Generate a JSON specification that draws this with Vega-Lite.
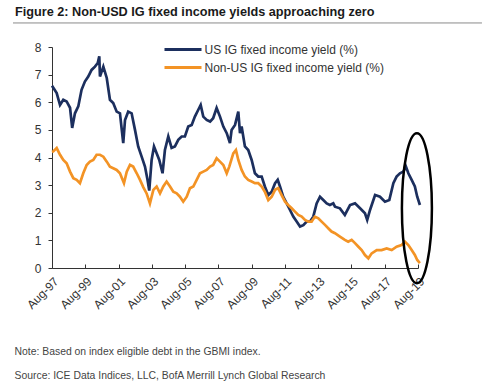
{
  "$schema": "https://vega.github.io/schema/vega-lite/v6.json",
  "width": 366,
  "height": 221,
  "autosize": {"type": "none"},
  "padding": {"left": 52, "top": 47, "right": 82, "bottom": 123},
  "background": "white",
  "config": {
    "view": {"stroke": null},
    "font": "Liberation Sans",
    "axis": {"labelFont": "Liberation Sans", "titleFont": "Liberation Sans", "labelOverlap": false}
  },
  "title": {
    "text": "Figure 2: Non-USD IG fixed income yields approaching zero",
    "anchor": "start",
    "frame": "group",
    "font": "Liberation Sans",
    "fontSize": 12.7,
    "fontWeight": "bold",
    "color": "#1a1a1a",
    "dx": -37,
    "offset": 4
  },
  "datasets": {
    "yields": [
      {"d":"1997-08-01","v":6.6,"s":"US"},
      {"d":"1997-11-12","v":6.33,"s":"US"},
      {"d":"1998-01-24","v":5.9,"s":"US"},
      {"d":"1998-04-06","v":6.09,"s":"US"},
      {"d":"1998-06-18","v":6.03,"s":"US"},
      {"d":"1998-09-01","v":5.8,"s":"US"},
      {"d":"1998-10-18","v":5.07,"s":"US"},
      {"d":"1998-12-18","v":5.6,"s":"US"},
      {"d":"1999-03-01","v":5.85,"s":"US"},
      {"d":"1999-05-12","v":6.45,"s":"US"},
      {"d":"1999-07-24","v":6.75,"s":"US"},
      {"d":"1999-10-06","v":6.93,"s":"US"},
      {"d":"1999-12-18","v":7.17,"s":"US"},
      {"d":"2000-03-01","v":7.29,"s":"US"},
      {"d":"2000-05-01","v":7.42,"s":"US"},
      {"d":"2000-06-04","v":7.66,"s":"US"},
      {"d":"2000-06-19","v":6.93,"s":"US"},
      {"d":"2000-09-01","v":7.29,"s":"US"},
      {"d":"2000-11-15","v":6.88,"s":"US"},
      {"d":"2001-01-24","v":6.09,"s":"US"},
      {"d":"2001-04-06","v":5.97,"s":"US"},
      {"d":"2001-06-21","v":5.66,"s":"US"},
      {"d":"2001-09-01","v":5.6,"s":"US"},
      {"d":"2001-11-12","v":4.52,"s":"US"},
      {"d":"2001-12-21","v":5.36,"s":"US"},
      {"d":"2002-03-01","v":5.66,"s":"US"},
      {"d":"2002-05-15","v":5.6,"s":"US"},
      {"d":"2002-07-28","v":5.0,"s":"US"},
      {"d":"2002-10-06","v":4.4,"s":"US"},
      {"d":"2002-12-21","v":4.03,"s":"US"},
      {"d":"2003-03-04","v":3.67,"s":"US"},
      {"d":"2003-04-28","v":3.2,"s":"US"},
      {"d":"2003-06-06","v":2.8,"s":"US"},
      {"d":"2003-07-28","v":3.91,"s":"US"},
      {"d":"2003-09-18","v":4.4,"s":"US"},
      {"d":"2003-11-15","v":4.15,"s":"US"},
      {"d":"2004-01-12","v":3.91,"s":"US"},
      {"d":"2004-03-24","v":3.43,"s":"US"},
      {"d":"2004-05-15","v":4.27,"s":"US"},
      {"d":"2004-07-28","v":4.76,"s":"US"},
      {"d":"2004-10-09","v":4.35,"s":"US"},
      {"d":"2004-12-21","v":4.4,"s":"US"},
      {"d":"2005-03-04","v":4.64,"s":"US"},
      {"d":"2005-05-18","v":4.76,"s":"US"},
      {"d":"2005-07-28","v":4.76,"s":"US"},
      {"d":"2005-10-09","v":5.12,"s":"US"},
      {"d":"2005-12-24","v":5.18,"s":"US"},
      {"d":"2006-03-04","v":5.48,"s":"US"},
      {"d":"2006-05-15","v":5.72,"s":"US"},
      {"d":"2006-07-09","v":5.9,"s":"US"},
      {"d":"2006-09-04","v":5.48,"s":"US"},
      {"d":"2006-11-18","v":5.36,"s":"US"},
      {"d":"2007-02-01","v":5.3,"s":"US"},
      {"d":"2007-04-09","v":5.42,"s":"US"},
      {"d":"2007-06-24","v":5.79,"s":"US"},
      {"d":"2007-09-06","v":5.48,"s":"US"},
      {"d":"2007-11-18","v":5.12,"s":"US"},
      {"d":"2008-02-01","v":4.88,"s":"US"},
      {"d":"2008-04-12","v":4.52,"s":"US"},
      {"d":"2008-05-18","v":5.0,"s":"US"},
      {"d":"2008-08-01","v":5.18,"s":"US"},
      {"d":"2008-10-12","v":5.66,"s":"US"},
      {"d":"2008-11-18","v":4.88,"s":"US"},
      {"d":"2008-12-24","v":5.12,"s":"US"},
      {"d":"2009-03-06","v":4.4,"s":"US"},
      {"d":"2009-05-18","v":4.27,"s":"US"},
      {"d":"2009-08-01","v":3.91,"s":"US"},
      {"d":"2009-10-12","v":3.43,"s":"US"},
      {"d":"2009-12-24","v":3.31,"s":"US"},
      {"d":"2010-03-09","v":3.31,"s":"US"},
      {"d":"2010-05-18","v":2.95,"s":"US"},
      {"d":"2010-08-01","v":2.64,"s":"US"},
      {"d":"2010-10-15","v":2.76,"s":"US"},
      {"d":"2010-12-28","v":3.07,"s":"US"},
      {"d":"2011-02-24","v":3.19,"s":"US"},
      {"d":"2011-04-15","v":2.95,"s":"US"},
      {"d":"2011-06-24","v":2.58,"s":"US"},
      {"d":"2011-09-09","v":2.34,"s":"US"},
      {"d":"2011-11-21","v":2.1,"s":"US"},
      {"d":"2012-02-01","v":1.86,"s":"US"},
      {"d":"2012-04-15","v":1.68,"s":"US"},
      {"d":"2012-06-28","v":1.5,"s":"US"},
      {"d":"2012-09-09","v":1.55,"s":"US"},
      {"d":"2012-11-21","v":1.68,"s":"US"},
      {"d":"2013-02-04","v":1.68,"s":"US"},
      {"d":"2013-04-15","v":1.86,"s":"US"},
      {"d":"2013-06-28","v":2.34,"s":"US"},
      {"d":"2013-09-09","v":2.58,"s":"US"},
      {"d":"2013-11-21","v":2.46,"s":"US"},
      {"d":"2014-02-04","v":2.34,"s":"US"},
      {"d":"2014-04-15","v":2.28,"s":"US"},
      {"d":"2014-06-28","v":2.34,"s":"US"},
      {"d":"2014-08-04","v":2.22,"s":"US"},
      {"d":"2014-11-21","v":2.16,"s":"US"},
      {"d":"2015-03-09","v":1.92,"s":"US"},
      {"d":"2015-07-01","v":2.28,"s":"US"},
      {"d":"2015-10-18","v":2.34,"s":"US"},
      {"d":"2016-02-06","v":2.16,"s":"US"},
      {"d":"2016-05-24","v":1.98,"s":"US"},
      {"d":"2016-07-12","v":1.74,"s":"US"},
      {"d":"2016-09-12","v":2.1,"s":"US"},
      {"d":"2017-01-01","v":2.64,"s":"US"},
      {"d":"2017-04-18","v":2.58,"s":"US"},
      {"d":"2017-08-06","v":2.4,"s":"US"},
      {"d":"2017-11-09","v":2.46,"s":"US"},
      {"d":"2018-02-06","v":3.07,"s":"US"},
      {"d":"2018-04-18","v":3.31,"s":"US"},
      {"d":"2018-07-01","v":3.43,"s":"US"},
      {"d":"2018-09-12","v":3.49,"s":"US"},
      {"d":"2018-11-09","v":3.67,"s":"US"},
      {"d":"2019-01-01","v":3.43,"s":"US"},
      {"d":"2019-03-15","v":3.19,"s":"US"},
      {"d":"2019-05-24","v":2.95,"s":"US"},
      {"d":"2019-07-15","v":2.58,"s":"US"},
      {"d":"2019-09-12","v":2.28,"s":"US"},
      {"d":"1997-08-01","v":4.2,"s":"Non-US"},
      {"d":"1997-08-28","v":4.22,"s":"Non-US"},
      {"d":"1997-11-12","v":4.34,"s":"Non-US"},
      {"d":"1998-01-24","v":4.1,"s":"Non-US"},
      {"d":"1998-04-06","v":3.91,"s":"Non-US"},
      {"d":"1998-06-18","v":3.79,"s":"Non-US"},
      {"d":"1998-09-01","v":3.49,"s":"Non-US"},
      {"d":"1998-11-12","v":3.25,"s":"Non-US"},
      {"d":"1999-01-24","v":3.19,"s":"Non-US"},
      {"d":"1999-04-06","v":3.07,"s":"Non-US"},
      {"d":"1999-06-18","v":3.43,"s":"Non-US"},
      {"d":"1999-09-01","v":3.73,"s":"Non-US"},
      {"d":"1999-11-12","v":3.85,"s":"Non-US"},
      {"d":"2000-01-24","v":3.91,"s":"Non-US"},
      {"d":"2000-04-06","v":4.1,"s":"Non-US"},
      {"d":"2000-06-19","v":4.1,"s":"Non-US"},
      {"d":"2000-09-01","v":4.03,"s":"Non-US"},
      {"d":"2000-11-15","v":3.85,"s":"Non-US"},
      {"d":"2001-01-24","v":3.67,"s":"Non-US"},
      {"d":"2001-04-06","v":3.61,"s":"Non-US"},
      {"d":"2001-06-21","v":3.55,"s":"Non-US"},
      {"d":"2001-09-01","v":3.43,"s":"Non-US"},
      {"d":"2001-11-28","v":3.07,"s":"Non-US"},
      {"d":"2002-01-28","v":3.49,"s":"Non-US"},
      {"d":"2002-04-09","v":3.73,"s":"Non-US"},
      {"d":"2002-06-18","v":3.67,"s":"Non-US"},
      {"d":"2002-09-04","v":3.43,"s":"Non-US"},
      {"d":"2002-11-15","v":3.19,"s":"Non-US"},
      {"d":"2003-01-28","v":2.92,"s":"Non-US"},
      {"d":"2003-04-09","v":2.7,"s":"Non-US"},
      {"d":"2003-06-21","v":2.34,"s":"Non-US"},
      {"d":"2003-09-04","v":2.83,"s":"Non-US"},
      {"d":"2003-11-15","v":2.95,"s":"Non-US"},
      {"d":"2004-01-28","v":2.7,"s":"Non-US"},
      {"d":"2004-04-09","v":2.95,"s":"Non-US"},
      {"d":"2004-06-21","v":3.13,"s":"Non-US"},
      {"d":"2004-09-04","v":2.95,"s":"Non-US"},
      {"d":"2004-11-15","v":2.76,"s":"Non-US"},
      {"d":"2005-01-28","v":2.7,"s":"Non-US"},
      {"d":"2005-04-09","v":2.58,"s":"Non-US"},
      {"d":"2005-06-21","v":2.4,"s":"Non-US"},
      {"d":"2005-09-06","v":2.58,"s":"Non-US"},
      {"d":"2005-11-15","v":2.89,"s":"Non-US"},
      {"d":"2006-01-28","v":2.95,"s":"Non-US"},
      {"d":"2006-04-12","v":3.19,"s":"Non-US"},
      {"d":"2006-06-24","v":3.43,"s":"Non-US"},
      {"d":"2006-09-04","v":3.49,"s":"Non-US"},
      {"d":"2006-11-18","v":3.55,"s":"Non-US"},
      {"d":"2007-02-01","v":3.67,"s":"Non-US"},
      {"d":"2007-04-09","v":3.73,"s":"Non-US"},
      {"d":"2007-06-24","v":3.97,"s":"Non-US"},
      {"d":"2007-09-06","v":3.85,"s":"Non-US"},
      {"d":"2007-11-18","v":3.73,"s":"Non-US"},
      {"d":"2008-02-01","v":3.43,"s":"Non-US"},
      {"d":"2008-03-28","v":3.67,"s":"Non-US"},
      {"d":"2008-06-24","v":4.15,"s":"Non-US"},
      {"d":"2008-08-21","v":4.27,"s":"Non-US"},
      {"d":"2008-10-12","v":3.91,"s":"Non-US"},
      {"d":"2008-12-24","v":3.55,"s":"Non-US"},
      {"d":"2009-03-06","v":3.31,"s":"Non-US"},
      {"d":"2009-05-18","v":3.19,"s":"Non-US"},
      {"d":"2009-08-01","v":3.13,"s":"Non-US"},
      {"d":"2009-10-12","v":3.07,"s":"Non-US"},
      {"d":"2009-12-24","v":3.07,"s":"Non-US"},
      {"d":"2010-03-09","v":2.95,"s":"Non-US"},
      {"d":"2010-05-18","v":2.76,"s":"Non-US"},
      {"d":"2010-08-01","v":2.46,"s":"Non-US"},
      {"d":"2010-10-15","v":2.58,"s":"Non-US"},
      {"d":"2010-12-28","v":2.83,"s":"Non-US"},
      {"d":"2011-03-06","v":2.89,"s":"Non-US"},
      {"d":"2011-05-21","v":2.64,"s":"Non-US"},
      {"d":"2011-08-04","v":2.4,"s":"Non-US"},
      {"d":"2011-10-12","v":2.28,"s":"Non-US"},
      {"d":"2011-12-28","v":2.16,"s":"Non-US"},
      {"d":"2012-03-09","v":2.04,"s":"Non-US"},
      {"d":"2012-05-21","v":1.92,"s":"Non-US"},
      {"d":"2012-08-04","v":1.86,"s":"Non-US"},
      {"d":"2012-10-15","v":1.74,"s":"Non-US"},
      {"d":"2012-12-28","v":1.68,"s":"Non-US"},
      {"d":"2013-03-09","v":1.68,"s":"Non-US"},
      {"d":"2013-05-21","v":1.86,"s":"Non-US"},
      {"d":"2013-08-04","v":1.8,"s":"Non-US"},
      {"d":"2013-10-15","v":1.68,"s":"Non-US"},
      {"d":"2013-12-28","v":1.56,"s":"Non-US"},
      {"d":"2014-03-09","v":1.44,"s":"Non-US"},
      {"d":"2014-05-21","v":1.32,"s":"Non-US"},
      {"d":"2014-08-04","v":1.26,"s":"Non-US"},
      {"d":"2014-11-21","v":1.14,"s":"Non-US"},
      {"d":"2015-03-09","v":1.02,"s":"Non-US"},
      {"d":"2015-05-21","v":0.95,"s":"Non-US"},
      {"d":"2015-08-06","v":1.02,"s":"Non-US"},
      {"d":"2015-10-18","v":0.9,"s":"Non-US"},
      {"d":"2016-01-01","v":0.77,"s":"Non-US"},
      {"d":"2016-03-12","v":0.65,"s":"Non-US"},
      {"d":"2016-05-24","v":0.47,"s":"Non-US"},
      {"d":"2016-08-06","v":0.35,"s":"Non-US"},
      {"d":"2016-10-18","v":0.53,"s":"Non-US"},
      {"d":"2017-02-06","v":0.65,"s":"Non-US"},
      {"d":"2017-05-24","v":0.65,"s":"Non-US"},
      {"d":"2017-09-12","v":0.71,"s":"Non-US"},
      {"d":"2018-01-01","v":0.65,"s":"Non-US"},
      {"d":"2018-04-18","v":0.77,"s":"Non-US"},
      {"d":"2018-08-06","v":0.83,"s":"Non-US"},
      {"d":"2018-10-18","v":0.95,"s":"Non-US"},
      {"d":"2019-01-01","v":0.83,"s":"Non-US"},
      {"d":"2019-03-15","v":0.65,"s":"Non-US"},
      {"d":"2019-05-24","v":0.47,"s":"Non-US"},
      {"d":"2019-07-15","v":0.29,"s":"Non-US"},
      {"d":"2019-09-12","v":0.18,"s":"Non-US"}
    ]
  },
  "encoding": {
    "x": {
      "field": "d",
      "type": "temporal",
      "scale": {
        "type": "utc",
        "domain": [
          {"year": 1997, "month": 8, "date": 1, "utc": true},
          {"year": 2019, "month": 8, "date": 1, "utc": true}
        ]
      },
      "axis": {
        "values": [
          {"year": 1997, "month": 8, "date": 1, "utc": true},
          {"year": 1999, "month": 8, "date": 1, "utc": true},
          {"year": 2001, "month": 8, "date": 1, "utc": true},
          {"year": 2003, "month": 8, "date": 1, "utc": true},
          {"year": 2005, "month": 8, "date": 1, "utc": true},
          {"year": 2007, "month": 8, "date": 1, "utc": true},
          {"year": 2009, "month": 8, "date": 1, "utc": true},
          {"year": 2011, "month": 8, "date": 1, "utc": true},
          {"year": 2013, "month": 8, "date": 1, "utc": true},
          {"year": 2015, "month": 8, "date": 1, "utc": true},
          {"year": 2017, "month": 8, "date": 1, "utc": true},
          {"year": 2019, "month": 8, "date": 1, "utc": true}
        ],
        "labelExpr": "utcFormat(datum.value, '%b-%y')",
        "labelAngle": -45,
        "labelAlign": "right",
        "labelBaseline": "middle",
        "labelFontSize": 12,
        "labelColor": "#333",
        "labelPadding": 15,
        "labelOffset": 4,
        "labelOverlap": false,
        "tickSize": -4,
        "tickColor": "#333",
        "domainColor": "#333",
        "grid": false,
        "title": [
          "Note: Based on index eligible debt in the GBMI index.",
          "Source: ICE Data Indices, LLC, BofA Merrill Lynch Global Research"
        ],
        "titleFontSize": 10.4,
        "titleFontWeight": "normal",
        "titleColor": "#444",
        "titleAlign": "left",
        "titleAnchor": "start",
        "titleBaseline": "alphabetic",
        "titleX": -38,
        "titleY": 86,
        "titleLineHeight": 24
      }
    },
    "y": {
      "field": "v",
      "type": "quantitative",
      "scale": {"domain": [0, 8], "nice": false, "zero": false},
      "axis": {
        "values": [0, 1, 2, 3, 4, 5, 6, 7, 8],
        "title": null,
        "grid": false,
        "labelOverlap": false,
        "labelFontSize": 12,
        "labelColor": "#333",
        "labelPadding": 7,
        "tickSize": 4,
        "tickColor": "#333",
        "domainColor": "#333"
      }
    }
  },
  "layer": [
    {
      "data": {"name": "yields"},
      "mark": {"type": "line", "strokeWidth": 2.7, "clip": false},
      "encoding": {
        "color": {
          "field": "s",
          "type": "nominal",
          "scale": {"domain": ["US", "Non-US"], "range": ["#1c2f5e", "#f39325"]},
          "legend": {
            "orient": "none",
            "legendX": 119.5,
            "legendY": -9,
            "title": null,
            "symbolType": "M-1.85,0 L1.85,0",
            "symbolSize": 400,
            "symbolStrokeWidth": 3,
            "labelFontSize": 12,
            "labelColor": "#333",
            "labelOffset": 10,
            "labelLimit": 300,
            "rowPadding": 0,
            "labelExpr": "datum.label == 'US' ? 'US IG fixed income yield (%)' : 'Non-US IG fixed income yield (%)'"
          }
        }
      }
    },
    {
      "data": {"values": [{"d": "1995-03-29", "d2": "2023-06-05", "v": 8.87}]},
      "mark": {"type": "rule", "stroke": "#8a8a8a", "strokeWidth": 1, "clip": false},
      "encoding": {
        "x2": {"field": "d2"}
      }
    },
    {
      "data": {"values": [{"d": "2019-07-08", "v": 2.16}]},
      "mark": {
        "type": "point",
        "shape": "M0,-1 C0.1105,-1 0.2,-0.5523 0.2,0 C0.2,0.5523 0.1105,1 0,1 C-0.1105,1 -0.2,0.5523 -0.2,0 C-0.2,-0.5523 -0.1105,-1 0,-1 Z",
        "filled": false,
        "stroke": "#000000",
        "strokeWidth": 2.5,
        "size": 22500,
        "opacity": 1,
        "clip": false
      }
    }
  ]
}
